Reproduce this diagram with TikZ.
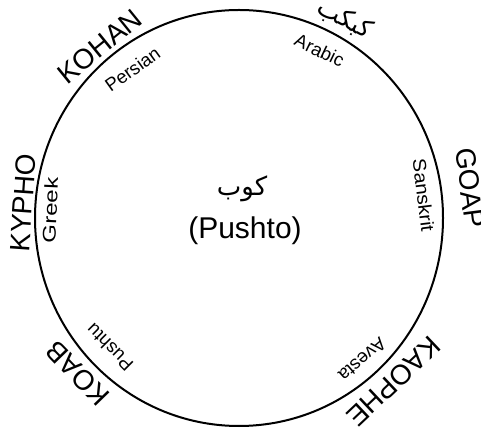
\documentclass[tikz,border=0pt]{standalone}
\usepackage{fontspec}
\setmainfont{Liberation Sans}
\newfontfamily\arabicfont[Script=Arabic]{DejaVu Sans}
\TeXXeTstate=1
\begin{document}
\begin{tikzpicture}[x=1pt,y=1pt,
  big/.style={font=\fontsize{28}{30}\selectfont, inner sep=0pt},
  small/.style={font=\fontsize{18.5}{20}\selectfont, inner sep=0pt},
  ring/.style={line width=2pt}]
\useasboundingbox (0,0) rectangle (481,433);
\coordinate (c) at (239,215);
\draw[ring] (c) ellipse [x radius=204, y radius=208];
% outer labels
\node[big, rotate=39] (kohan) at ([shift={(129:221)}]c) {KOHAN};
\node[small, rotate=35.6] (persian) at ([shift={(125.6:183)}]c) {Persian};
\node[small, rotate=-25.7] (arabic) at ([shift={(64.3:186)}]c) {Arabic};
\node[inner sep=0pt, rotate=-28, font=\arabicfont\fontsize{25}{27}\selectfont] (arabw) at ([shift={(62:225)}]c) {\beginR كبكب\endR};
\node[big, rotate=86] (kypho) at ([shift={(176:216.5)}]c) {KYPHO};
\node[small, rotate=87.6] (greek) at ([shift={(177.6:189)}]c) {\scalebox{1.3}[1]{Greek}};
\node[big, rotate=-82.6] (goap) at ([shift={(7.4:233)}]c) {GOAP};
\node[small, rotate=-83] (sanskrit) at ([shift={(7:186)}]c) {\scalebox{1.1}[1]{Sanskrit}};
\node[big, rotate=134] (koab) at ([shift={(224:224)}]c) {KOAB};
\node[small, rotate=135] (pushtu) at ([shift={(225:183)}]c) {Pushtu};
\node[small, rotate=-139] (avesta) at ([shift={(-49:188)}]c) {Avesta};
\node[big, rotate=-136.6] (kaophe) at ([shift={(-46.6:225)}]c) {KAOPHE};
% centre
\node[inner sep=0pt, font=\arabicfont\fontsize{26}{28}\selectfont] (kob) at (242,244) {\beginR كوب\endR};
\node[inner sep=0pt, font=\fontsize{30}{32}\selectfont] (pushto) at (245,202) {(Pushto)};
\end{tikzpicture}
\end{document}
